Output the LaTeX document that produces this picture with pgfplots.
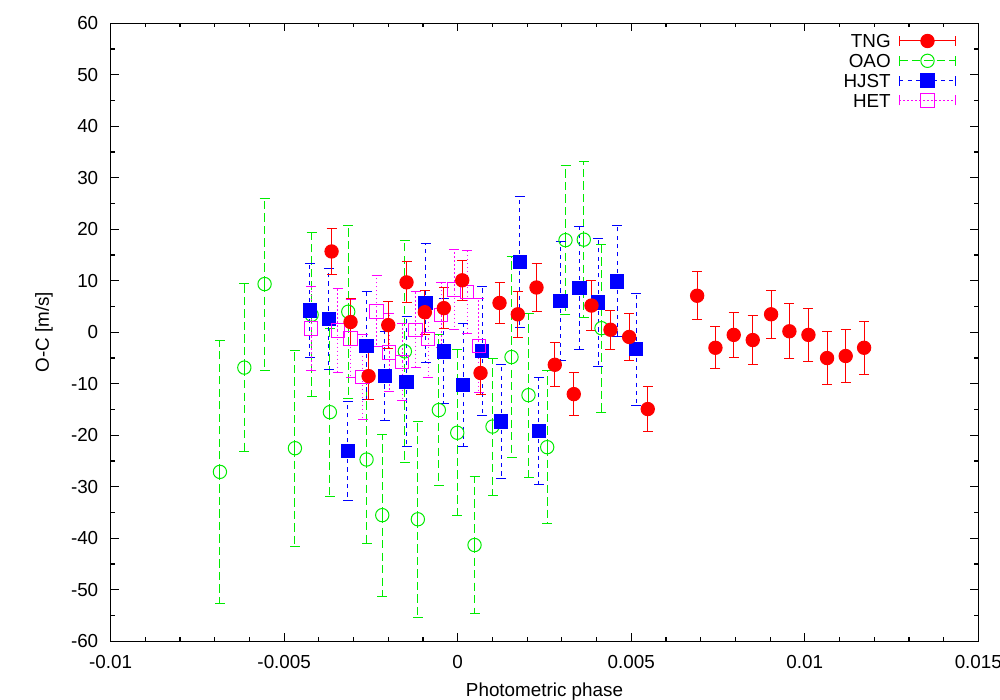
\documentclass[border=0pt]{standalone}
\usepackage{fontspec}
\setmainfont{Liberation Sans}
\usepackage{pgfplots}
\pgfplotsset{compat=1.18}
\usepackage{pgfplotstable}

\definecolor{tngred}{RGB}{255,0,0}
\definecolor{oaogreen}{RGB}{0,235,0}
\definecolor{hjstblue}{RGB}{0,0,255}
\definecolor{hetmag}{RGB}{255,0,255}

% columns: phase, O-C, error
\pgfplotstableread{
x y e
-0.003635 15.7 4.5
-0.003088 2.0 4.6
-0.002569 -8.5 4.5
-0.002002 1.4 4.5
-0.001475 9.7 4.0
-0.000948 3.9 4.3
-0.000400 4.7 4.0
0.000130 10.1 3.9
0.000657 -7.9 4.1
0.001204 5.7 4.0
0.001731 3.5 4.5
0.002270 8.7 4.6
0.002797 -6.3 4.3
0.003344 -12.0 4.2
0.003854 5.2 4.9
0.004401 0.5 3.8
0.004939 -0.9 4.5
0.005475 -14.9 4.4
0.006898 7.1 4.7
0.007425 -3.0 4.1
0.007952 -0.5 4.3
0.008500 -1.5 4.8
0.009029 3.5 4.7
0.009556 0.2 5.3
0.010104 -0.5 5.2
0.010642 -5.0 5.1
0.011178 -4.6 5.15
0.011708 -3.0 5.15
}\tng

\pgfplotstableread{
x y e
-0.006852 -27.1 25.5
-0.006149 -6.85 16.3
-0.005565 9.37 16.7
-0.004691 -22.5 19.0
-0.004210 3.4 15.9
-0.003684 -15.5 16.3
-0.003154 4.0 16.8
-0.002627 -24.7 16.3
-0.002175 -35.5 15.75
-0.001523 -3.7 21.6
-0.001149 -36.3 19.0
-0.000544 -15.1 14.6
-0.000014 -19.5 16.1
0.000484 -41.3 13.3
0.001002 -18.3 13.3
0.001550 -4.8 19.5
0.002039 -12.2 15.9
0.002578 -22.3 14.9
0.003105 17.9 14.5
0.003632 18.0 15.2
0.004142 0.8 16.3
}\oao

\pgfplotstableread{
x y e
-0.004260 4.25 9.2
-0.003712 2.6 9.8
-0.003165 -23.0 9.6
-0.002627 -2.6 10.5
-0.002099 -8.5 8.6
-0.001475 -9.6 12.6
-0.000927 5.7 11.6
-0.000400 -3.7 10.2
0.000158 -10.2 11.9
0.000705 -3.6 12.5
0.001252 -17.3 11.0
0.001789 13.6 12.7
0.002336 -19.1 10.4
0.002961 6.1 11.6
0.003508 8.6 11.9
0.004046 5.8 12.4
0.004594 9.9 10.8
0.005141 -3.3 10.9
}\hjst

\pgfplotstableread{
x y e
-0.004220 0.75 8.1
-0.003453 0.35 8.1
-0.003088 -1.2 7.6
-0.002742 -8.7 8.2
-0.002339 4.05 6.9
-0.001974 -3.9 7.5
-0.001599 -5.7 7.5
-0.001215 0.5 7.4
-0.000850 -1.3 7.45
-0.000475 3.3 6.3
-0.000101 8.3 7.7
0.000274 7.8 8.1
0.000608 -2.6 9.1
}\het

\pgfplotsset{
  errlegend/.style={legend image code/.code={
    \draw[##1, mark=none] (0pt,0pt) -- (34pt,0pt);
    \draw[##1, mark=none, solid] (0pt,-3pt) -- (0pt,3pt) (34pt,-3pt) -- (34pt,3pt);
    \draw[##1] plot coordinates {(17pt,0pt)};
  }},
}

\begin{document}
\fontsize{11.3}{13.5}\selectfont
\begin{tikzpicture}
\path[use as bounding box] (-66.4pt,-35.2pt) rectangle (533.6pt,384.8pt);
\begin{axis}[
  at={(0,0)}, anchor=south west,
  scale only axis, width=520.6pt, height=370.8pt,
  xmin=-0.01, xmax=0.015, ymin=-60, ymax=60,
  scaled x ticks=false, scaled y ticks=false,
  xtick={-0.01,-0.005,0,0.005,0.01,0.015},
  xticklabels={-0.01,-0.005,0,0.005,0.01,0.015},
  ytick={-60,-50,...,60},
  yticklabels={-60,-50,-40,-30,-20,-10,0,10,20,30,40,50,60},
  minor x tick num=4, minor y tick num=1,
  tick align=inside,
  major tick length=4.8pt, minor tick length=2.4pt,
  every tick/.style={black, line width=0.7pt},
  axis line style={line width=0.8pt},
  xlabel={Photometric phase}, ylabel={O-C [m/s]},
  x label style={at={(axis description cs:0.5,-0.081)}, anchor=center},
  y label style={at={(axis description cs:-0.0768,0.5)}, anchor=center},
  xticklabel style={yshift=-4.6pt},
  yticklabel style={xshift=-3.5pt},
  legend plot pos=right, legend cell align=right,
  legend style={at={(1,1)}, anchor=north east, xshift=-13pt, yshift=-6.3pt,
    draw=none, fill=none, inner sep=0pt, row sep=3.7pt, column sep=4.8pt,
    nodes={inner sep=0pt, text height=8.2pt, text depth=0pt}},
]
\addlegendimage{color=tngred, solid, line width=0.6pt, mark=*, mark size=4pt, mark options={solid}, errlegend}
\addlegendentry{TNG}
\addlegendimage{color=oaogreen, dash pattern=on 5pt off 2.5pt, line width=0.6pt, mark=o, mark size=4pt, mark options={solid}, errlegend}
\addlegendentry{OAO}
\addlegendimage{color=hjstblue, dash pattern=on 2.5pt off 2.5pt, line width=0.6pt, mark=square*, mark size=4pt, mark options={solid}, errlegend}
\addlegendentry{HJST}
\addlegendimage{color=hetmag, dash pattern=on 0.8pt off 1.6pt, line width=0.6pt, mark=square, mark size=4pt, mark options={solid}, errlegend}
\addlegendentry{HET}

\addplot[color=oaogreen, only marks, mark=o, mark size=4pt, line width=0.6pt, mark options={solid}, forget plot,
  error bars/.cd, y dir=both, y explicit, error mark=-,
  error bar style={oaogreen, line width=0.6pt, dash pattern=on 5pt off 2.5pt},
  error mark options={rotate=90, oaogreen, solid, mark size=3pt, line width=0.6pt}]
  table[x=x, y=y, y error=e] {\oao};
\addplot[color=hjstblue, only marks, mark=square*, mark size=4pt, line width=0.6pt, mark options={solid}, forget plot,
  error bars/.cd, y dir=both, y explicit, error mark=-,
  error bar style={hjstblue, line width=0.6pt, dash pattern=on 2.5pt off 2.5pt},
  error mark options={rotate=90, hjstblue, solid, mark size=3pt, line width=0.6pt}]
  table[x=x, y=y, y error=e] {\hjst};
\addplot[color=hetmag, only marks, mark=square, mark size=4pt, line width=0.6pt, mark options={solid}, forget plot,
  error bars/.cd, y dir=both, y explicit, error mark=-,
  error bar style={hetmag, line width=0.6pt, dash pattern=on 0.8pt off 1.6pt},
  error mark options={rotate=90, hetmag, solid, mark size=3pt, line width=0.6pt}]
  table[x=x, y=y, y error=e] {\het};
\addplot[color=tngred, only marks, mark=*, mark size=4pt, line width=0.6pt, mark options={solid}, forget plot,
  error bars/.cd, y dir=both, y explicit, error mark=-,
  error bar style={tngred, line width=0.6pt, solid},
  error mark options={rotate=90, tngred, solid, mark size=3pt, line width=0.6pt}]
  table[x=x, y=y, y error=e] {\tng};
\end{axis}
\end{tikzpicture}
\end{document}
